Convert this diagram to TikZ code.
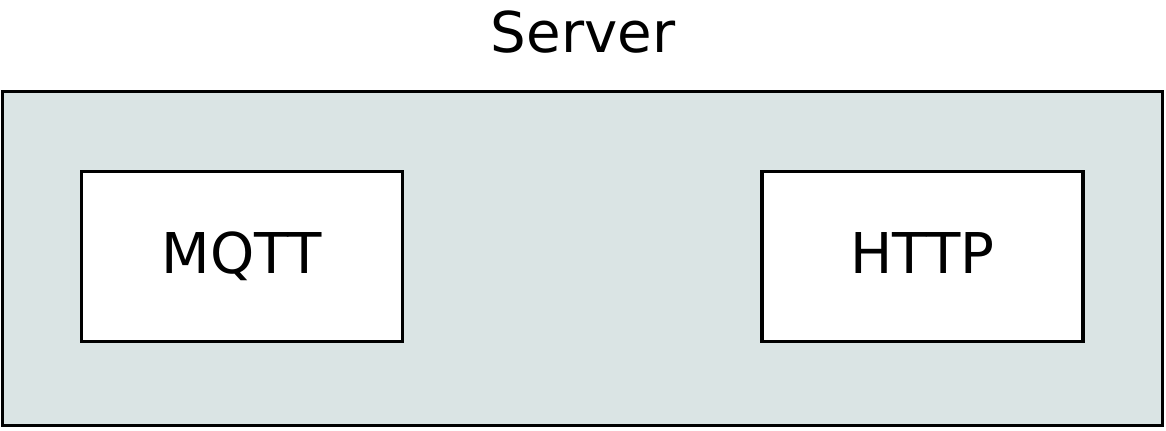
\documentclass[tikz,border=0pt]{standalone}
\usepackage{fontspec}
\setmainfont{DejaVu Sans}
\definecolor{serverfill}{RGB}{218,228,228}
\tikzset{
  srvbox/.style={draw, line width=2pt, fill=serverfill, minimum width=23.2cm, minimum height=6.68cm, inner sep=0pt},
  protobox/.style={draw, line width=2pt, fill=white, minimum width=6.42cm, minimum height=3.4cm, inner sep=0pt},
  lbl/.style={anchor=base, inner sep=0pt, font=\fontsize{32}{38}\selectfont}
}
\begin{document}
\begin{tikzpicture}[x=0.02cm, y=-0.02cm]
  \useasboundingbox (0,0) rectangle (1166,430);
  \node[srvbox] (server) at (582.5,258.5) {};
  \node[lbl] (title) at (583,52) {Server};
  \node[protobox] (mqtt) at (242,256.5) {};
  \node[lbl] at (242,273) {MQTT};
  \node[protobox] (http) at (922.5,256.5) {};
  \node[lbl] at (922.5,273) {HTTP};
\end{tikzpicture}
\end{document}
